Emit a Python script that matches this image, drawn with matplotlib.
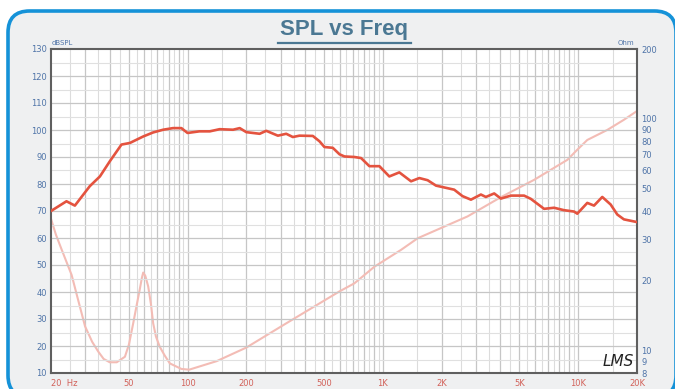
import numpy as np
import matplotlib
matplotlib.use("Agg")
import matplotlib.pyplot as plt
from matplotlib.patches import FancyBboxPatch
from matplotlib.lines import Line2D
from matplotlib.ticker import NullLocator, FixedLocator

# --- data -------------------------------------------------------------
spl_freq = [20, 24.0, 26.5, 31.6, 35.6, 40.0, 45.9, 50.7, 59.3, 66.7, 75, 84.3, 93,
            100, 115, 130, 146, 171, 185, 200, 234, 253, 290, 320, 346, 374, 438,
            474, 502, 554, 600, 636, 715, 774, 853, 960, 1079, 1214, 1394, 1537,
            1695, 1871, 2318, 2558, 2824, 3176, 3367, 3715, 4020, 4520, 5285, 5720,
            6690, 7525, 8463, 9520, 9890, 11130, 12050, 13280, 14660, 15850, 17140,
            20000]
spl_db = [70.0, 73.6, 72.0, 79.2, 82.8, 88.4, 94.6, 95.2, 97.6, 99.1, 100.1, 100.7,
          100.7, 98.9, 99.5, 99.5, 100.3, 100.1, 100.7, 99.2, 98.6, 99.7, 97.9, 98.6,
          97.4, 97.9, 97.8, 95.8, 93.7, 93.4, 91.0, 90.2, 90.0, 89.6, 86.6, 86.6,
          82.8, 84.3, 81.0, 82.2, 81.4, 79.4, 77.9, 75.5, 74.2, 76.1, 75.2, 76.5,
          74.6, 75.7, 75.7, 74.5, 70.8, 71.2, 70.3, 69.8, 69.0, 73.0, 72.0, 75.2,
          72.4, 68.7, 66.9, 65.9]

imp_freq = [20, 21.2, 22.7, 25.5, 27.5, 29.9, 32.5, 34.9, 37.2, 40.0, 43.4, 47.8,
            50.1, 52.7, 55.0, 56.9, 58.4, 59.3, 60.8, 62.9, 65.0, 66.7, 68.9, 72.0,
            76.5, 81.2, 93, 102, 141, 200, 320, 600, 715, 905, 1240, 1506,
            2713, 4020, 5945, 8800, 9890, 11130, 14090, 17140, 20000]
imp_ohm = [37.0, 31.6, 27.2, 21.2, 16.6, 12.7, 10.9, 9.9, 9.2, 8.9, 8.9, 9.4,
           10.6, 13.1, 15.8, 18.3, 20.6, 21.7, 21.0, 18.9, 15.8, 13.1, 11.5, 10.4,
           9.5, 8.8, 8.33, 8.27, 9.0, 10.3, 13.1, 18.0, 19.5, 23.0, 27.2, 30.5,
           37.9, 45.9, 54.5, 66.5, 73.5, 81.0, 89.5, 99.0, 108.0]

x_ticks = [20, 50, 100, 200, 500, 1000, 2000, 5000, 10000, 20000]
x_labels = ["20  Hz", "50", "100", "200", "500", "1K", "2K", "5K", "10K", "20K"]
db_ticks = list(range(10, 131, 10))
ohm_ticks = [8, 9, 10, 20, 30, 40, 50, 60, 70, 80, 90, 100, 200]

BLUE_TXT = "#4f74a8"

# --- figure & panel ---------------------------------------------------
W, H = 675, 389
fig = plt.figure(figsize=(W / 100, H / 100), dpi=100)
fig.patch.set_facecolor("white")

panel = FancyBboxPatch((8 / W, -8 / H), (676 - 8) / W, (378 + 8) / H,
                       boxstyle="round,pad=0,rounding_size=0.032",
                       transform=fig.transFigure, facecolor="#eff0f1",
                       edgecolor="#1592d8", linewidth=2.6, zorder=-10,
                       mutation_aspect=W / H)
fig.patches.append(panel)

# title with underline
fig.text(344 / W, 1 - 29 / H, "SPL vs Freq", ha="center", va="center",
         fontsize=16, fontweight="bold", color="#4b7893",
         family=["Liberation Sans", "DejaVu Sans"])
fig.add_artist(Line2D([278 / W, 411 / W], [1 - 42.5 / H, 1 - 42.5 / H],
                      transform=fig.transFigure, color="#4b7893", lw=1.6))

rect = [51 / W, 1 - 373 / H, (637 - 51) / W, (373 - 49) / H]

# impedance axes (log, right) drawn underneath the SPL axes
ax2 = fig.add_axes(rect, zorder=1)
ax2.set_facecolor("white")
ax2.set_xscale("log")
ax2.set_xlim(20, 20000)
ax2.set_yscale("log")
ax2.set_ylim(8, 200)
ax2.xaxis.set_major_locator(NullLocator())
ax2.xaxis.set_minor_locator(NullLocator())
ax2.yaxis.tick_right()
ax2.yaxis.set_major_locator(FixedLocator(ohm_ticks))
ax2.yaxis.set_minor_locator(NullLocator())
ax2.set_yticklabels([str(t) for t in ohm_ticks])
ax2.tick_params(axis="y", length=0, pad=3, labelsize=6, colors=BLUE_TXT)
for s in ax2.spines.values():
    s.set_visible(False)

# grid: half-unit log steps inside each decade, 5 dB horizontals
for dec in [10, 100, 1000, 10000]:
    for m in np.arange(1.0, 10.0, 0.5):
        f = dec * m
        if 20 < f < 20000:
            whole = float(m).is_integer()
            ax2.axvline(f, color="#c6c6c6" if whole else "#dcdcdc",
                        lw=0.9 if whole else 0.8, zorder=1)

ax2.plot(imp_freq, imp_ohm, color="#f3bcb5", lw=1.5, zorder=3,
         solid_joinstyle="round")

# SPL axes (linear dB, left)
ax = fig.add_axes(rect, zorder=2)
ax.patch.set_visible(False)
ax.set_xscale("log")
ax.set_xlim(20, 20000)
ax.set_ylim(10, 130)
for y in range(15, 130, 5):
    ax.axhline(y, color="#c6c6c6" if y % 10 == 0 else "#e0e0e0",
               lw=0.9 if y % 10 == 0 else 0.8, zorder=1)

ax.set_xticks(x_ticks)
ax.set_xticklabels(x_labels)
ax.get_xticklabels()[0].set_horizontalalignment("left")
ax.xaxis.set_minor_locator(NullLocator())
ax.set_yticks(db_ticks)
ax.tick_params(axis="x", length=0, pad=4, labelsize=6, colors="#d2625a")
ax.tick_params(axis="y", length=0, pad=3, labelsize=6, colors=BLUE_TXT)
for s in ax.spines.values():
    s.set_color("#5f5f5f")
    s.set_linewidth(1.5)

ax.plot(spl_freq, spl_db, color="#e4533f", lw=1.9, zorder=4,
        solid_joinstyle="round")

fig.text(52 / W, 1 - 43 / H, "dBSPL", fontsize=5, color=BLUE_TXT,
         ha="left", va="center")
fig.text(634 / W, 1 - 43 / H, "Ohm", fontsize=5, color=BLUE_TXT,
         ha="right", va="center")
fig.text(618 / W, 1 - 362 / H, "LMS", fontsize=11, color="#222222",
         ha="center", va="center", style="italic",
         family=["DejaVu Sans"])

fig.savefig("out.png", dpi=100, facecolor=fig.get_facecolor())
